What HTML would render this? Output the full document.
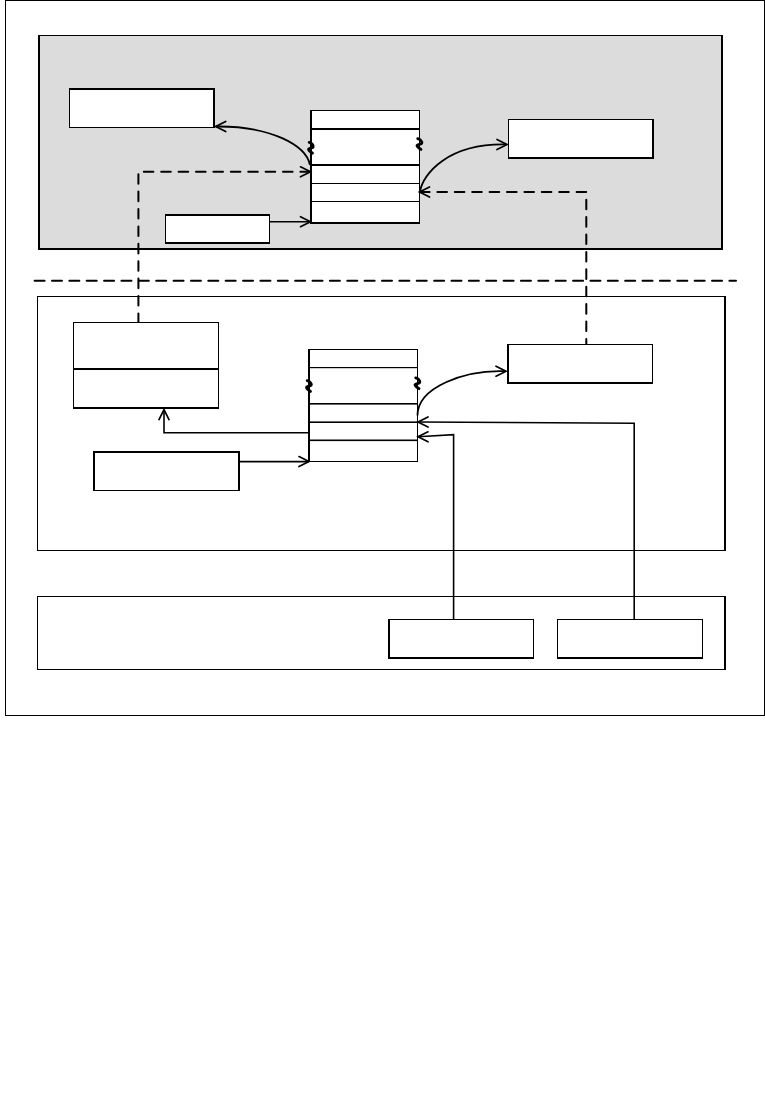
<!DOCTYPE html>
<html><head><meta charset="utf-8"><style>
html,body{margin:0;padding:0;background:#fff;}
body{width:765px;height:1119px;overflow:hidden;font-family:"Liberation Sans",sans-serif;}
svg{display:block;}
</style></head><body>
<svg width="765" height="1119" viewBox="0 0 765 1119">
<g shape-rendering="crispEdges">
<rect x="5" y="0" width="1" height="716" fill="#000"/>
<rect x="5" y="0" width="760" height="1" fill="#000"/>
<rect x="764" y="0" width="1" height="716" fill="#000"/>
<rect x="5" y="715" width="760" height="1" fill="#000"/>
<rect x="38" y="35" width="685" height="215" fill="#dcdcdc"/>
<rect x="38" y="35" width="2" height="215" fill="#000"/>
<rect x="38" y="35" width="685" height="1" fill="#000"/>
<rect x="721" y="35" width="2" height="215" fill="#000"/>
<rect x="38" y="248" width="685" height="2" fill="#000"/>
<rect x="37" y="296" width="1" height="255" fill="#000"/>
<rect x="37" y="296" width="689" height="1" fill="#000"/>
<rect x="724" y="296" width="2" height="255" fill="#000"/>
<rect x="37" y="550" width="689" height="1" fill="#000"/>
<rect x="37" y="596" width="1" height="74" fill="#000"/>
<rect x="37" y="596" width="689" height="1" fill="#000"/>
<rect x="724" y="596" width="2" height="74" fill="#000"/>
<rect x="37" y="669" width="689" height="1" fill="#000"/>
<rect x="69" y="88" width="146" height="40" fill="#fff"/>
<rect x="69" y="88" width="1" height="40" fill="#000"/>
<rect x="69" y="88" width="146" height="2" fill="#000"/>
<rect x="213" y="88" width="2" height="40" fill="#000"/>
<rect x="69" y="127" width="146" height="1" fill="#000"/>
<rect x="165" y="214" width="105" height="30" fill="#fff"/>
<rect x="165" y="214" width="1" height="30" fill="#000"/>
<rect x="165" y="214" width="105" height="2" fill="#000"/>
<rect x="269" y="214" width="1" height="30" fill="#000"/>
<rect x="165" y="242" width="105" height="2" fill="#000"/>
<rect x="508" y="119" width="146" height="40" fill="#fff"/>
<rect x="508" y="119" width="1" height="40" fill="#000"/>
<rect x="508" y="119" width="146" height="1" fill="#000"/>
<rect x="652" y="119" width="2" height="40" fill="#000"/>
<rect x="508" y="157" width="146" height="2" fill="#000"/>
<rect x="310" y="110" width="110" height="114" fill="#fff"/>
<rect x="310" y="110" width="2" height="114" fill="#000"/>
<rect x="310" y="110" width="110" height="1" fill="#000"/>
<rect x="419" y="110" width="1" height="114" fill="#000"/>
<rect x="310" y="222" width="110" height="2" fill="#000"/>
<rect x="310" y="128" width="110" height="2" fill="#000"/>
<rect x="310" y="164" width="110" height="2" fill="#000"/>
<rect x="310" y="183" width="110" height="1" fill="#000"/>
<rect x="310" y="201" width="110" height="1" fill="#000"/>
<rect x="73" y="322" width="146" height="87" fill="#fff"/>
<rect x="73" y="322" width="1" height="87" fill="#000"/>
<rect x="73" y="322" width="146" height="1" fill="#000"/>
<rect x="218" y="322" width="1" height="87" fill="#000"/>
<rect x="73" y="407" width="146" height="2" fill="#000"/>
<rect x="73" y="368" width="146" height="2" fill="#000"/>
<rect x="507" y="344" width="146" height="40" fill="#fff"/>
<rect x="507" y="344" width="2" height="40" fill="#000"/>
<rect x="507" y="344" width="146" height="1" fill="#000"/>
<rect x="652" y="344" width="1" height="40" fill="#000"/>
<rect x="507" y="382" width="146" height="2" fill="#000"/>
<rect x="93" y="451" width="147" height="40" fill="#fff"/>
<rect x="93" y="451" width="2" height="40" fill="#000"/>
<rect x="93" y="451" width="147" height="2" fill="#000"/>
<rect x="238" y="451" width="2" height="40" fill="#000"/>
<rect x="93" y="490" width="147" height="1" fill="#000"/>
<rect x="308" y="349" width="110" height="113" fill="#fff"/>
<rect x="308" y="349" width="2" height="113" fill="#000"/>
<rect x="308" y="349" width="110" height="1" fill="#000"/>
<rect x="417" y="349" width="1" height="113" fill="#000"/>
<rect x="308" y="461" width="110" height="1" fill="#000"/>
<rect x="388" y="619" width="146" height="40" fill="#fff"/>
<rect x="388" y="619" width="2" height="40" fill="#000"/>
<rect x="388" y="619" width="146" height="1" fill="#000"/>
<rect x="533" y="619" width="1" height="40" fill="#000"/>
<rect x="388" y="657" width="146" height="2" fill="#000"/>
<rect x="557" y="619" width="146" height="40" fill="#fff"/>
<rect x="557" y="619" width="1" height="40" fill="#000"/>
<rect x="557" y="619" width="146" height="1" fill="#000"/>
<rect x="702" y="619" width="1" height="40" fill="#000"/>
<rect x="557" y="657" width="146" height="2" fill="#000"/>
</g>
<g>
<rect x="308" y="367" width="110" height="1.2" fill="#000"/>
<rect x="308" y="403" width="110" height="1.6" fill="#000"/>
<rect x="308" y="421.4" width="110" height="1.6" fill="#000"/>
<rect x="308" y="439.5" width="110" height="1.6" fill="#000"/>
<path d="M310 165 C306.12 145.32, 271.06 125.9, 215.7 126.5" fill="none" stroke="#000" stroke-width="1.8" />
<path d="M225.70 121.50 L215.70 126.50 L225.70 131.50" fill="none" stroke="#000" stroke-width="1.7" stroke-linejoin="miter" stroke-linecap="round"/>
<path d="M310 171.8 H138.4 V322" fill="none" stroke="#000" stroke-width="2" stroke-dasharray="9.6 7.8" stroke-linecap="round"/>
<path d="M300.50 176.80 L310.50 171.80 L300.50 166.80" fill="none" stroke="#000" stroke-width="1.7" stroke-linejoin="miter" stroke-linecap="round"/>
<path d="M270 221.7 H310" fill="none" stroke="#000" stroke-width="1.6" />
<path d="M300.50 226.70 L310.50 221.70 L300.50 216.70" fill="none" stroke="#000" stroke-width="1.7" stroke-linejoin="miter" stroke-linecap="round"/>
<path d="M420 191.5 C423.07 173.95, 447.49 143.19, 506.5 144.5" fill="none" stroke="#000" stroke-width="1.8" />
<path d="M497.00 149.50 L507.00 144.50 L497.00 139.50" fill="none" stroke="#000" stroke-width="1.7" stroke-linejoin="miter" stroke-linecap="round"/>
<path d="M421 192 H586.3 V344" fill="none" stroke="#000" stroke-width="2" stroke-dasharray="9.6 7.8" stroke-linecap="round" stroke-dashoffset="1"/>
<path d="M429.50 187.00 L419.50 192.00 L429.50 197.00" fill="none" stroke="#000" stroke-width="1.7" stroke-linejoin="miter" stroke-linecap="round"/>
<path d="M34.6 280.8 H736" fill="none" stroke="#000" stroke-width="2" stroke-dasharray="10 7.37" stroke-linecap="round"/>
<path d="M417.5 415.5 C417.5 387.45, 464.11 369.68, 505.5 371.2" fill="none" stroke="#000" stroke-width="1.8" />
<path d="M496.00 376.20 L506.00 371.20 L496.00 366.20" fill="none" stroke="#000" stroke-width="1.7" stroke-linejoin="miter" stroke-linecap="round"/>
<path d="M308 432.7 H164 V410" fill="none" stroke="#000" stroke-width="1.6" />
<path d="M169.00 419.60 L164.00 409.60 L159.00 419.60" fill="none" stroke="#000" stroke-width="1.7" stroke-linejoin="miter" stroke-linecap="round"/>
<path d="M239 461.6 H308.5" fill="none" stroke="#000" stroke-width="1.6" />
<path d="M299.00 466.60 L309.00 461.60 L299.00 456.60" fill="none" stroke="#000" stroke-width="1.7" stroke-linejoin="miter" stroke-linecap="round"/>
<path d="M634.2 619 V423.2 L418 422" fill="none" stroke="#000" stroke-width="1.6" />
<path d="M428.00 417.00 L418.00 422.00 L428.00 427.00" fill="none" stroke="#000" stroke-width="1.7" stroke-linejoin="miter" stroke-linecap="round"/>
<path d="M453.6 619 V434.7 L418 436.8" fill="none" stroke="#000" stroke-width="1.6" />
<path d="M428.00 431.80 L418.00 436.80 L428.00 441.80" fill="none" stroke="#000" stroke-width="1.7" stroke-linejoin="miter" stroke-linecap="round"/>
<path d="M309.2 142.4 C311.5 143,313.8 145,313.2 147 C312.8 148.3,308.2 147.8,308.5 149.5 C308.8 151.3,311 152,312.5 153.2" fill="none" stroke="#000" stroke-width="2.8" stroke-linecap="round"/>
<path d="M417.7 138.70000000000002 C420.0 139.3,422.3 141.3,421.7 143.3 C421.3 144.60000000000002,416.7 144.10000000000002,417.0 145.8 C417.3 147.60000000000002,419.5 148.3,421.0 149.5" fill="none" stroke="#000" stroke-width="2.8" stroke-linecap="round"/>
<path d="M307.2 380.59999999999997 C309.5 381.2,311.8 383.2,311.2 385.2 C310.8 386.5,306.2 386.0,306.5 387.7 C306.8 389.5,309 390.2,310.5 391.4" fill="none" stroke="#000" stroke-width="2.8" stroke-linecap="round"/>
<path d="M415.7 377.9 C418.0 378.5,420.3 380.5,419.7 382.5 C419.3 383.8,414.7 383.3,415.0 385.0 C415.3 386.8,417.5 387.5,419.0 388.7" fill="none" stroke="#000" stroke-width="2.8" stroke-linecap="round"/>
</g>
</svg>
</body></html>
